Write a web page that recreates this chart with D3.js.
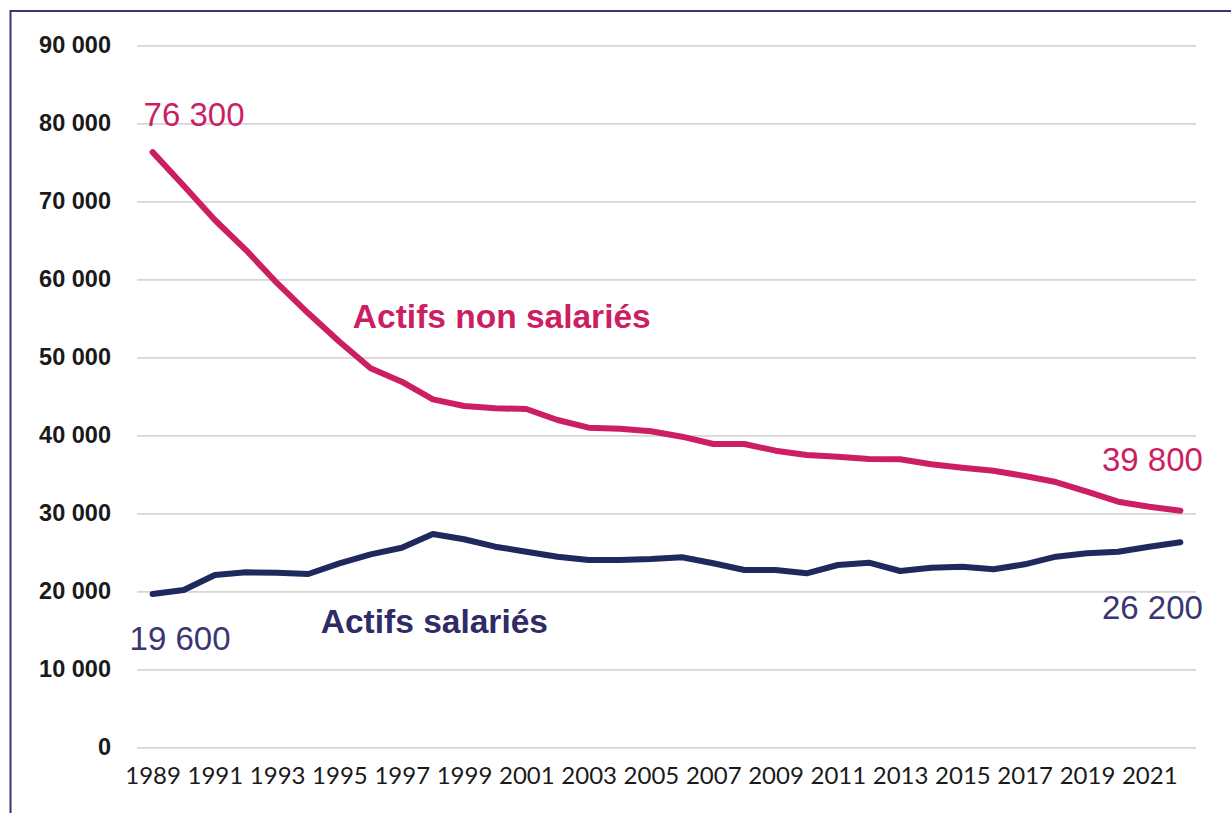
<!DOCTYPE html>
<html>
<head>
<meta charset="utf-8">
<script src="https://cdn.jsdelivr.net/npm/d3@7"></script>
<style>
  html, body { margin: 0; padding: 0; background: #fff; }
  svg { display: block; }
</style>
</head>
<body>
<svg id="chart" width="1231" height="813"></svg>
<script>
// years on the x axis (one point per year, label every other year)
let years = d3.range(1989, 2023);

// actifs non salariés
let nonSalaries = [
    76300, 72000, 67600, 63750, 59500, 55640, 52000, 48590, 46870, 44600,
    43760, 43460, 43370, 41960, 40980, 40850, 40510, 39820, 38880, 38880,
    38030, 37470, 37260, 36960, 36920, 36280, 35850, 35460, 34780, 34010,
    32770, 31490, 30850, 30330
];

// actifs salariés
let salaries = [
    19650, 20170, 22090, 22430, 22390, 22220, 23590, 24740, 25590, 27350,
    26670, 25720, 25080, 24440, 24010, 24010, 24140, 24360, 23590, 22730,
    22730, 22310, 23370, 23670, 22600, 23030, 23160, 22820, 23460, 24440,
    24870, 25080, 25720, 26280
];

let yTicks = [0, 10000, 20000, 30000, 40000, 50000, 60000, 70000, 80000, 90000];

let pink = "#cc1f63";
let navy = "#1f295e";
let purple = "#3a3573";

let svg = d3.select("#chart");
let frFormat = d3.formatLocale({ decimal: ",", thousands: " ", grouping: [3], currency: ["", " €"] }).format(",");

let xScale = d3.scalePoint()
    .domain(years)
    .range([137, 1196])
    .padding(0.5);

let yScale = d3.scaleLinear()
    .domain([0, 90000])
    .range([747.3, 45.3]);

// position between years (fractional index from first year)
function xAt(i) {
    return xScale(years[0]) + i * xScale.step();
}

// frame
svg.append("line")
    .attr("x1", 10.5).attr("x2", 10.5)
    .attr("y1", 10).attr("y2", 813)
    .attr("stroke", "#3b3470")
    .attr("stroke-width", 2);
svg.append("line")
    .attr("x1", 10).attr("x2", 1231)
    .attr("y1", 11).attr("y2", 11)
    .attr("stroke", "#3b3470")
    .attr("stroke-width", 2);

// gridlines + y labels
let yAxis = svg.append("g")
    .attr("id", "y_axis")
    .attr("transform", "translate(137,0)")
    .call(d3.axisLeft(yScale).tickValues(yTicks).tickFormat(frFormat).tickSize(-1059).tickPadding(26));
yAxis.select("path").remove();
yAxis.selectAll("line")
    .attr("stroke", "#d6d6d6")
    .attr("stroke-width", 1.8);
yAxis.selectAll("text")
    .style("font-family", "'Liberation Sans', Arial, sans-serif")
    .style("font-weight", "bold")
    .style("font-size", "23.5px")
    .style("fill", "#1a1a1a");

// x labels
let xAxis = svg.append("g")
    .attr("id", "x_axis")
    .attr("transform", "translate(0,747.3)")
    .call(d3.axisBottom(xScale).tickValues(years.filter(function(d) { return (d - 1989) % 2 === 0; })).tickSize(0).tickPadding(20));
xAxis.select("path").remove();
xAxis.selectAll("text")
    .style("font-family", "Lato, 'Open Sans', sans-serif")
    .style("font-size", "24px")
    .style("fill", "#1a1a1a");

// lines
let line = d3.line()
    .x(function(d, i) { return xScale(years[i]); })
    .y(function(d) { return yScale(d); });

svg.append("path")
    .datum(salaries)
    .attr("d", line)
    .attr("fill", "none")
    .attr("stroke", navy)
    .attr("stroke-width", 6)
    .style("stroke-linecap", "round")
    .style("stroke-linejoin", "round");

svg.append("path")
    .datum(nonSalaries)
    .attr("d", line)
    .attr("fill", "none")
    .attr("stroke", pink)
    .attr("stroke-width", 6)
    .style("stroke-linecap", "round")
    .style("stroke-linejoin", "round");

// value labels
let last = years.length - 1;
function addText(x, y, text, color, weight, anchor, size) {
    svg.append("text")
        .attr("x", x)
        .attr("y", y)
        .text(text)
        .style("font-family", "'Liberation Sans', Arial, sans-serif")
        .style("font-size", size + "px")
        .style("font-weight", weight)
        .style("text-anchor", anchor)
        .style("fill", color);
}
addText(xScale(years[0]) - 9, yScale(nonSalaries[0]) - 26, "76 300", pink, "normal", "start", 33);
addText(xScale(years[last]) + 22.5, yScale(nonSalaries[last]) - 40, "39 800", pink, "normal", "end", 33);
addText(xScale(years[0]) - 23, yScale(salaries[0]) + 56, "19 600", purple, "normal", "start", 33);
addText(xScale(years[last]) + 22.5, yScale(salaries[last]) + 77, "26 200", purple, "normal", "end", 33);

// series names
addText(xAt(6.43), yScale(53750), "Actifs non salariés", pink, "bold", "start", 33.5);
addText(xAt(5.4), yScale(14650), "Actifs salariés", "#2e2b66", "bold", "start", 33.5);
</script>
</body>
</html>
